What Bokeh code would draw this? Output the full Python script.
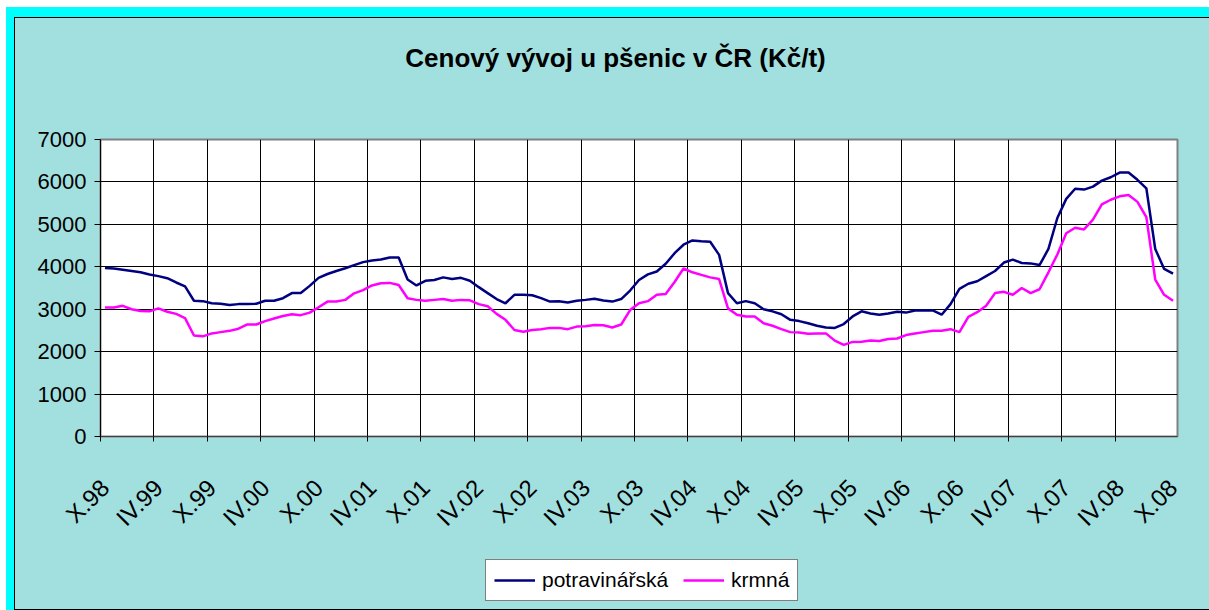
from math import pi
from bokeh.plotting import figure
from bokeh.layouts import column
from bokeh.models import (FixedTicker, LinearAxis, Range1d, Legend, LegendItem, Label,
                          ColumnDataSource, CustomJSTickFormatter)
from bokeh.embed import file_html
from bokeh.resources import INLINE

# ---- data -------------------------------------------------------------
roman = ["I", "II", "III", "IV", "V", "VI", "VII", "VIII", "IX", "X", "XI", "XII"]
months = [f"{roman[(9 + i) % 12]}.{(98 + (9 + i) // 12) % 100:02d}" for i in range(121)]

potravinarska = [
    3970, 3960, 3930, 3900, 3870, 3820, 3780, 3730, 3630, 3540,
    3200, 3190, 3140, 3130, 3100, 3120, 3120, 3130, 3200, 3200,
    3260, 3380, 3380, 3550, 3740, 3830, 3900, 3965, 4040, 4110,
    4150, 4170, 4220, 4220, 3700, 3560, 3670, 3690, 3750, 3710,
    3740, 3670, 3520, 3380, 3240, 3140, 3340, 3340, 3330, 3260,
    3180, 3190, 3160, 3200, 3220, 3245, 3205, 3180, 3240, 3440,
    3690, 3820, 3890, 4070, 4320, 4520, 4620, 4600, 4590, 4280,
    3380, 3140, 3190, 3140, 3000, 2950, 2880, 2750, 2720, 2670,
    2610, 2570, 2560, 2650, 2830, 2950, 2900, 2870, 2900, 2940,
    2920, 2970, 2970, 2970, 2870, 3120, 3480, 3600, 3660, 3780,
    3900, 4100, 4170, 4090, 4080, 4040, 4420, 5150, 5600, 5840,
    5820, 5890, 6030, 6110, 6220, 6220, 6050, 5850, 4420, 3950,
    3840,
]

krmna = [
    3040, 3040, 3080, 3000, 2960, 2950, 3020, 2940, 2890, 2790,
    2380, 2360, 2430, 2460, 2490, 2540, 2640, 2640, 2720, 2780,
    2840, 2880, 2860, 2920, 3045, 3180, 3180, 3220, 3375, 3450,
    3560, 3610, 3620, 3570, 3260, 3220, 3200, 3220, 3240, 3200,
    3220, 3210, 3120, 3070, 2890, 2750, 2510, 2470, 2510, 2530,
    2560, 2560, 2530, 2590, 2600, 2630, 2620, 2570, 2640, 2980,
    3140, 3190, 3340, 3360, 3640, 3960, 3870, 3810, 3750, 3710,
    3020, 2870, 2830, 2830, 2670, 2610, 2530, 2460, 2450, 2420,
    2430, 2430, 2260, 2160, 2230, 2235, 2260, 2250, 2300, 2310,
    2390, 2430, 2460, 2490, 2490, 2530, 2460, 2820, 2930, 3080,
    3380, 3410, 3340, 3500, 3380, 3470, 3870, 4290, 4790, 4920,
    4880, 5110, 5470, 5580, 5660, 5690, 5530, 5170, 3700, 3340,
    3200,
]

y_ticks = [0, 1000, 2000, 3000, 4000, 5000, 6000, 7000]
label_step = 6
title_text = "Cenový vývoj u pšenic v ČR (Kč/t)"
series_names = ["potravinářská", "krmná"]

# ---- styling ------------------------------------------------------------
TEAL = "#A2E0E0"
CYAN = "#00FFFF"
NAVY = "#000080"
MAGENTA = "#FF00FF"
FONT = "Liberation Sans"
W = 1194
LEFT = 85  # left border of the main chart (frame starts here)


def blank_fig(height):
    f = figure(width=W, height=height, output_backend="svg", toolbar_location=None,
               x_axis_location=None, y_axis_location=None, min_border=0,
               x_range=Range1d(0, 1), y_range=Range1d(0, 1),
               background_fill_color=TEAL, border_fill_color=TEAL,
               outline_line_color=None)
    f.grid.grid_line_color = None
    shift = LEFT
    if "frame_align" in f.properties():
        f.frame_align = False
        shift = 0
    return f, shift


x_idx = list(range(len(months)))
source = ColumnDataSource(dict(x=x_idx, p=potravinarska, k=krmna, m=months))

# ---- title strip --------------------------------------------------------
ft, sh_t = blank_fig(82)
ft.add_layout(Label(x=600 - sh_t, y=43, x_units="screen", y_units="screen", text=title_text,
                    text_align="center", text_baseline="middle",
                    text_font=FONT, text_font_size="26px", text_font_style="bold",
                    text_color="black"))

# ---- main chart ---------------------------------------------------------
p = figure(width=W, height=455, output_backend="svg", toolbar_location=None,
           x_range=Range1d(-0.5, len(months) - 0.5), y_range=Range1d(0, 7000),
           min_border_left=LEFT, min_border_right=32, min_border_top=39, min_border_bottom=119,
           border_fill_color=TEAL, background_fill_color="white",
           outline_line_color="#808080", outline_line_width=2)

boundaries = [i - 0.5 for i in range(0, len(months) - 1, label_step)]
ax1 = p.below[0]
ax1.ticker = FixedTicker(ticks=boundaries)
ax1.formatter = CustomJSTickFormatter(code="return ''")
ax1.major_tick_out = 5
ax1.major_tick_in = 0
ax1.minor_tick_out = 0
ax1.minor_tick_in = 0
ax1.major_label_standoff = 0
ax1.major_label_text_font_size = "1px"
ax1.axis_line_color = "#404040"
ax1.major_tick_line_color = "black"

lab_ticks = list(range(0, len(months), label_step))
ax2 = LinearAxis(ticker=FixedTicker(ticks=lab_ticks),
                 major_label_overrides={t: months[t] for t in lab_ticks},
                 major_tick_out=0, major_tick_in=0, minor_tick_out=0, minor_tick_in=0,
                 axis_line_color=None, major_label_orientation=pi / 4,
                 major_label_standoff=42,
                 major_label_text_font=FONT, major_label_text_font_size="24px",
                 major_label_text_color="black")
p.add_layout(ax2, "below")

yax = p.left[0]
yax.ticker = FixedTicker(ticks=y_ticks)
yax.major_tick_out = 6
yax.major_tick_in = 0
yax.minor_tick_out = 0
yax.minor_tick_in = 0
yax.major_label_standoff = 8
yax.major_label_text_font = FONT
yax.major_label_text_font_size = "22px"
yax.major_label_text_color = "black"
yax.axis_line_color = "black"

p.xgrid.ticker = FixedTicker(ticks=boundaries)
p.xgrid.grid_line_color = "black"
p.ygrid.grid_line_color = "black"
p.xgrid.grid_line_width = 1
p.ygrid.grid_line_width = 1

p.line("x", "p", source=source, line_color=NAVY, line_width=2.5)
p.line("x", "k", source=source, line_color=MAGENTA, line_width=2.5)

# ---- legend strip -------------------------------------------------------
fl, sh_l = blank_fig(54)
l1 = fl.line("x", "p", source=source, line_color=NAVY, line_width=2.5)
l2 = fl.line("x", "k", source=source, line_color=MAGENTA, line_width=2.5)
legend = Legend(items=[LegendItem(label=series_names[0], renderers=[l1]),
                       LegendItem(label=series_names[1], renderers=[l2])],
                location=(470 - sh_l, 8), orientation="horizontal",
                border_line_color="black", border_line_width=1,
                background_fill_color="white", background_fill_alpha=1,
                label_text_font=FONT, label_text_font_size="21px",
                label_text_color="black",
                glyph_width=41, glyph_height=20, label_standoff=7, spacing=15,
                padding=8, margin=0)
fl.add_layout(legend)

layout = column(ft, p, fl, spacing=0, styles={
    "margin-left": "14px", "margin-top": "17px",
    "background-color": TEAL,
    "border-left": "1px solid black", "border-top": "1px solid black",
    "border-bottom": "1px solid black",
    "box-shadow": (f"-8px 0 0 0 {CYAN}, 0 -10px 0 0 {CYAN}, -8px -10px 0 0 {CYAN}, "
                   f"30px 0 0 0 {TEAL}, 30px -10px 0 0 {CYAN}"),
})

open("out.html", "w").write(file_html(layout, INLINE))
